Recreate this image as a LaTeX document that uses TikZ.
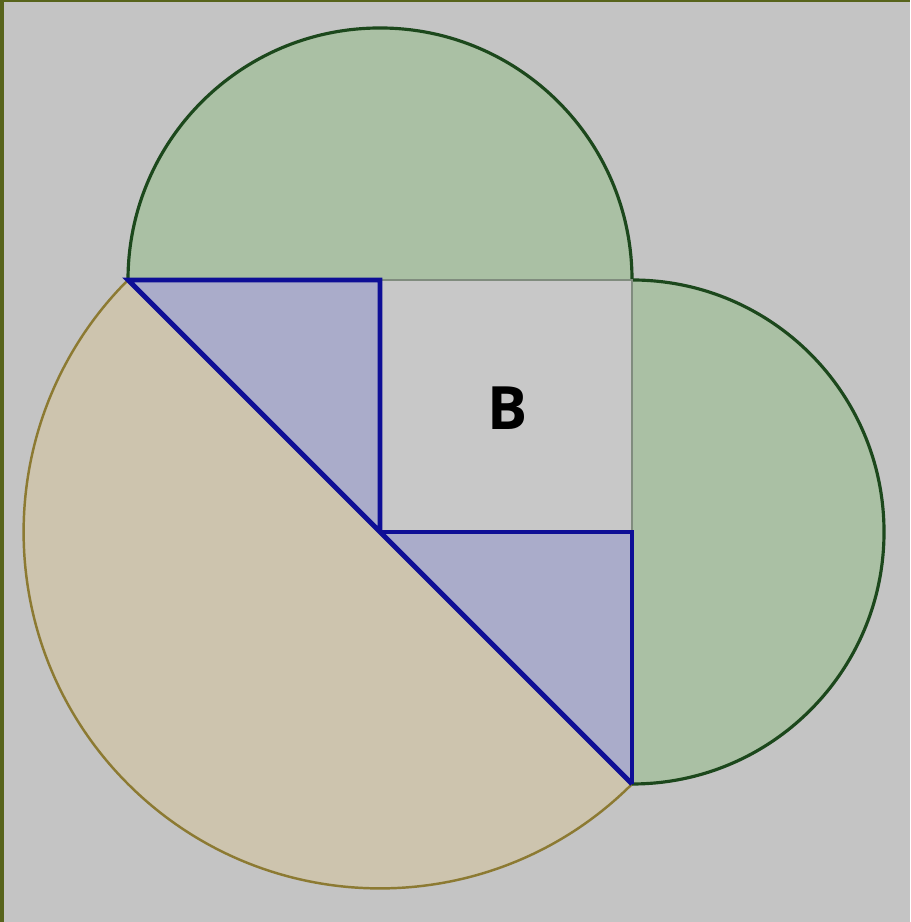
\documentclass[tikz,border=0pt]{standalone}
\usepackage{fontspec}
\setmainfont{Open Sans}
\definecolor{bgray}{RGB}{196,196,196}
\definecolor{olivebar}{RGB}{88,100,28}
\definecolor{leafgreen}{RGB}{170,192,164}
\definecolor{leafline}{RGB}{28,72,28}
\definecolor{sandfill}{RGB}{205,196,174}
\definecolor{sandline}{RGB}{140,122,50}
\definecolor{violetfill}{RGB}{170,172,202}
\definecolor{bluedge}{RGB}{14,14,150}
\definecolor{seam}{RGB}{128,140,126}
\definecolor{sqfill}{RGB}{200,200,200}
\tikzset{
  greenfill/.style={fill=leafgreen},
  greenrim/.style={draw=leafline,line width=0.9pt},
  sandpart/.style={fill=sandfill,draw=sandline,line width=0.7pt},
  bluetri/.style={fill=violetfill},
  blueline/.style={draw=bluedge,line width=1.4pt,line join=miter},
  seamline/.style={draw=seam,line width=0.8pt}
}

\begin{document}
\begin{tikzpicture}
\useasboundingbox (0,0) rectangle (9.10,9.22);
\fill[bgray] (0,0) rectangle (9.10,9.22);
\fill[olivebar] (0,0) rectangle (0.04,9.22);
\fill[olivebar] (0,9.20) rectangle (9.10,9.22);

% corners of the square
\coordinate (A) at (1.28,6.42);
\coordinate (T) at (3.80,6.42);
\coordinate (C) at (6.32,6.42);
\coordinate (O) at (3.80,3.90);
\coordinate (M) at (6.32,3.90);
\coordinate (D) at (6.32,1.38);

% semicircles
\path[sandpart] (A) arc[start angle=135,end angle=315,radius=3.564] -- cycle;
\path[greenfill] (A) arc[start angle=180,end angle=0,radius=2.52] -- cycle;
\path[greenfill] (C) arc[start angle=90,end angle=-90,radius=2.52] -- cycle;
\path[greenrim] (A) arc[start angle=180,end angle=0,radius=2.52];
\path[greenrim] (C) arc[start angle=90,end angle=-90,radius=2.52];

% square B and triangles
\fill[sqfill] (T) rectangle (M);
\path[bluetri] (A) -- (T) -- (O) -- cycle;
\path[bluetri] (O) -- (M) -- (D) -- cycle;
\draw[seamline] (T) -- (C) -- (M);
\draw[blueline] (O) -- (T) -- (A) -- (O) -- (D);
\draw[blueline] (O) -- (M) -- (D);

\node[font=\fontsize{17}{20}\selectfont\bfseries] (B) at (5.08,5.14) {B};

\end{tikzpicture}
\end{document}
